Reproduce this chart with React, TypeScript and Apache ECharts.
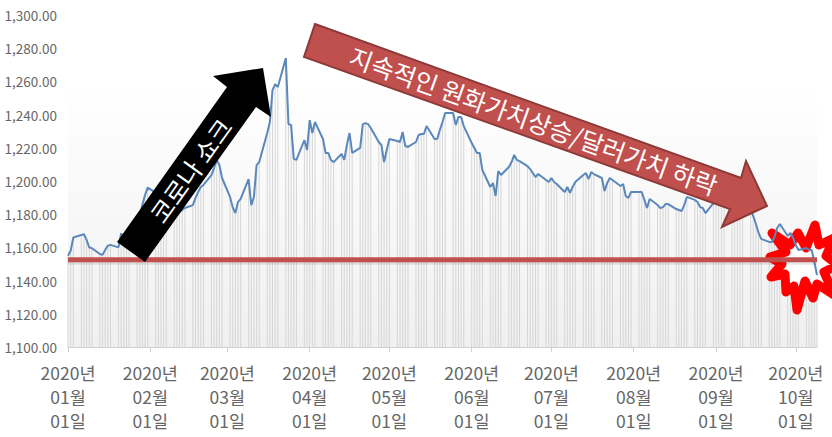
import React, { useEffect, useRef } from "react";
import * as echarts from "echarts";

// USD/KRW by trading week (Mon-Fri)
const weeksJan = [
  [1155, 1158, 1166],
  [1167.5, 1168, 1164.5, 1160, 1159.5],
  [1156, 1155.5, 1158.5, 1161, 1161.5],
  [1160, 1168.5, 1164, 1162.5, 1164],
  [1173.5, 1179.5, 1185.5, 1191.5, 1196],
];
const weeksFeb = [
  [1193, 1191.5, 1188.5, 1189.5, 1185.5],
  [1183.7, 1182.5, 1181.3, 1182.5, 1183.7],
  [1185.5, 1189.8, 1193.4, 1196.4, 1197.6],
  [1203.6, 1207.8, 1212.7, 1209.6, 1201.8],
];
const weeksMar = [
  [1190.4, 1184.3, 1180.7, 1187.3, 1189.2],
  [1201.2, 1185.5, 1190.4, 1209.6, 1211.4],
  [1228.9, 1235.5, 1254.8, 1258.4, 1256.6],
  [1274, 1234.3, 1233.7, 1213.3, 1212.7],
];
const weeksApr = [
  [1224.7, 1218.7, 1236.7, 1228.9, 1235.5],
  [1225.3, 1216.9, 1216.9, 1212.7, 1211.4],
  [1216.3, 1212.7, 1221.7, 1228.9, 1216.9],
  [1219.9, 1234.3, 1234.9, 1234.3, 1231.9],
];
const weeksMay = [
  [1223.5, 1221.7, 1211.4, 1218.7, 1225.3],
  [1224.1, 1223.5, 1229.5, 1221.1, 1220.5],
  [1223.5, 1227.7, 1228.3, 1228.3, 1233.1],
  [1225.3, 1225.3, 1230.7, 1235.5, 1241],
  [1241, 1233.7, 1238.6, 1238.6, 1233.1],
];
const weeksJun = [
  [1222.9, 1219.9, 1216.9, 1216.9, 1206.6],
  [1196.4, 1198.8, 1191, 1206, 1203.6],
  [1208.4, 1211.4, 1215.7, 1212.7, 1212],
  [1209, 1207.2, 1204.8, 1202.4, 1204.2],
];
const weeksJul = [
  [1200.6, 1199.4, 1201.8, 1199.4, 1198.2],
  [1193.4, 1196.4, 1192.8, 1196.4, 1199.4],
  [1203.6, 1204.8, 1201.2, 1205.4, 1204.2],
  [1201.8, 1194, 1198.8, 1201.8, 1200.6],
  [1197, 1198.2, 1191, 1189.8, 1193.4],
];
const weeksAug = [
  [1193.4, 1193.4, 1188.6, 1183.7, 1189.2],
  [1185.5, 1183.7, 1184.3, 1186.1, 1186.1],
  [1183.1, 1182.5, 1181.9, 1185.5, 1190.4],
  [1188.6, 1187.3, 1184.3, 1183.7, 1180.7],
];
const weeksSep = [
  [1186.7, 1188.6, 1191, 1189.2, 1188.6],
  [1189.8, 1191, 1188.6, 1186.7, 1184.9],
  [1182.5, 1178.9, 1174.1, 1168.7, 1165.1],
  [1163.3, 1163.3, 1166.3, 1171.7, 1174.1],
  [1166.9, 1168.7, 1165.7, 1161.4, 1158.4],
];
const weeksOct = [[1159.6, 1158.4, 1158.4, 1151.2, 1143.4]];

const supportLevel = 1152.5;
const supportShadowLevel = 1151.4;
// Days since 2020-01-01 of each month's first day, with its label
const monthStartDays = [0, 31, 60, 91, 121, 152, 182, 213, 244, 274];
const monthLabels = ["01", "02", "03", "04", "05", "06", "07", "08", "09", "10"];
const lastDay = 282;
const shockLabel = "코로나 쇼크";
const trendLabel = "지속적인 원화가치상승/달러가치 하락";

const burstPoints = [
  [772, 233], [790, 245], [798, 233], [806, 248], [815, 225], [819, 245],
  [834, 238], [826, 256], [838, 265], [824, 272], [834, 295], [817, 284],
  [813, 298], [805, 281], [797, 310], [794, 286], [786, 292], [785, 274],
  [771, 277], [782, 264], [770, 257], [786, 252],
];
const blackArrow = [
  [145, 262], [256, 107], [271, 117], [263, 68], [213, 76], [227, 87], [117, 242],
];
const redArrow = [
  [315, 24], [741, 178], [746, 161], [767, 206], [722, 227], [730, 209], [304, 57],
];

const FONT = '"Noto Sans CJK KR", "Noto Sans", sans-serif';

function buildSeries() {
  const rows = [
    ...weeksJan, ...weeksFeb, ...weeksMar, ...weeksApr, ...weeksMay,
    ...weeksJun, ...weeksJul, ...weeksAug, ...weeksSep, ...weeksOct,
  ];
  const out: [number, number][] = [];
  let day = 0; // 2020-01-01 was a Wednesday (weekday index 3, Sunday = 0)
  for (const row of rows) {
    for (const v of row) {
      while ((day + 3) % 7 === 6 || (day + 3) % 7 === 0) day += 1;
      out.push([day, v]);
      day += 1;
    }
  }
  return out;
}

export default function App() {
  const ref = useRef<HTMLDivElement>(null);
  useEffect(() => {
    const chart = echarts.init(ref.current!, undefined, { renderer: "svg" });
    const data = buildSeries();
    chart.setOption({
      animation: false,
      backgroundColor: "#ffffff",
      grid: {
        show: true,
        left: 68,
        right: 15,
        top: 15,
        height: 332,
        borderWidth: 0,
        backgroundColor: new echarts.graphic.LinearGradient(0, 0, 0, 1, [
          { offset: 0, color: "#ffffff" },
          { offset: 0.2, color: "#ffffff" },
          { offset: 1, color: "#f0f0f0" },
        ]),
      },
      xAxis: {
        type: "value",
        min: 0,
        max: lastDay,
        splitLine: { show: false },
        axisLine: { lineStyle: { color: "#d0d0d0", width: 1 } },
        axisTick: { length: 5, customValues: monthStartDays, lineStyle: { color: "#d0d0d0" } },
        axisLabel: {
          customValues: monthStartDays,
          hideOverlap: false,
          color: "#666666",
          fontFamily: FONT,
          fontSize: 17.5,
          lineHeight: 24,
          margin: 13,
          formatter: (val: number) => {
            const i = monthStartDays.indexOf(val);
            return `2020년\n${monthLabels[i]}월\n01일`;
          },
        },
      },
      yAxis: {
        type: "value",
        min: 1100,
        max: 1300,
        interval: 20,
        splitLine: { show: false },
        axisLine: { show: false },
        axisTick: { show: false },
        axisLabel: {
          color: "#666666",
          fontFamily: FONT,
          fontSize: 13.5,
          margin: 11,
          padding: [0, 0, 2, 0],
          formatter: (v: number) =>
            v.toLocaleString("en-US", { minimumFractionDigits: 2, maximumFractionDigits: 2 }),
        },
      },
      series: [
        {
          type: "bar",
          z: 1,
          barWidth: 1,
          silent: true,
          itemStyle: { color: "#d6d6d6" },
          data,
        },
        {
          type: "line",
          z: 5,
          symbol: "none",
          silent: true,
          lineStyle: { color: "#5a88bd", width: 2 },
          data,
        },
        {
          type: "line",
          z: 6,
          symbol: "none",
          silent: true,
          lineStyle: { color: "rgba(0,0,0,0.09)", width: 6 },
          data: [[0, supportShadowLevel], [lastDay, supportShadowLevel]],
        },
        {
          type: "line",
          z: 7,
          symbol: "none",
          silent: true,
          lineStyle: { color: "#c0504d", width: 5 },
          data: [[0, supportLevel], [lastDay, supportLevel]],
        },
      ],
      graphic: [
        {
          type: "polygon",
          z: 3,
          silent: true,
          shape: { points: burstPoints },
          style: { fill: "#ffffff", stroke: "#ff0000", lineWidth: 9, lineJoin: "round" },
        },
        {
          type: "polygon",
          z: 20,
          silent: true,
          shape: { points: blackArrow },
          style: { fill: "#000000" },
        },
        {
          type: "text",
          z: 21,
          silent: true,
          x: 190,
          y: 170,
          rotation: 0.95,
          style: {
            text: shockLabel,
            fill: "#ffffff",
            font: `25px ${FONT}`,
            align: "center",
            verticalAlign: "middle",
          },
        },
        {
          type: "polygon",
          z: 20,
          silent: true,
          shape: { points: redArrow },
          style: { fill: "#c0504d", stroke: "#8c3a38", lineWidth: 2 },
        },
        {
          type: "text",
          z: 21,
          silent: true,
          x: 534,
          y: 120,
          rotation: -0.345,
          style: {
            text: trendLabel,
            fill: "#ffffff",
            font: `25px ${FONT}`,
            align: "center",
            verticalAlign: "middle",
          },
        },
      ],
    });
    return () => chart.dispose();
  }, []);
  return (
    <div
      ref={ref}
      style={{ position: "fixed", left: 0, top: 0, width: 832, height: 437 }}
    />
  );
}
